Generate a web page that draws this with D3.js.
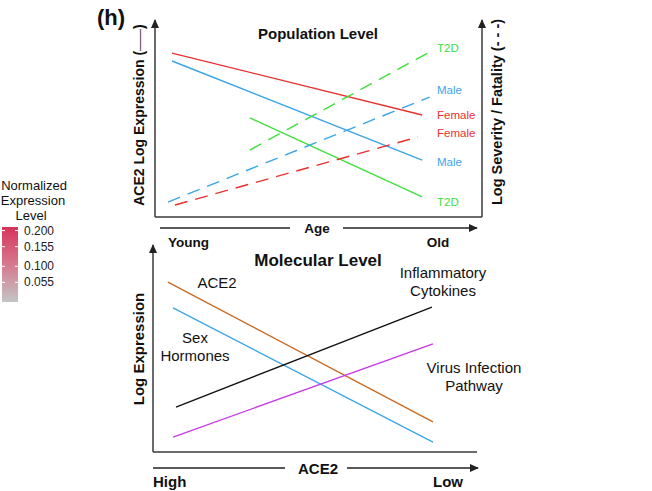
<!DOCTYPE html>
<html><head><meta charset="utf-8">
<script src="https://cdn.jsdelivr.net/npm/d3@7"></script>
<style>
html,body{margin:0;padding:0;background:#fff;}
svg{display:block;font-family:"Liberation Sans",Arial,sans-serif;}
</style></head>
<body>
<svg id="c" width="652" height="491"></svg>
<script>
// ---- Data ----
// Population level: [age (0-100), value (0-100)] at line start and end
const popSeries = ["Female", "Male", "T2D"];
const popSolid = [
  [[5.2, 83.2], [81.7, 51.8]],   // Female ACE2 expression
  [[5.2, 79.2], [81.7, 28.9]],   // Male
  [[29.0, 50.3], [81.7, 10.2]]   // T2D
];
const popDashed = [
  [[6.1, 6.1], [80.4, 40.6]],    // Female severity
  [[4.0, 7.6], [84.0, 60.9]],    // Male
  [[29.0, 34.0], [84.0, 83.8]]   // T2D
];
const popColors = ["#e8312f", "#3ba4e6", "#3fe03b"];
// Molecular level: [ACE2 (high->low, 0-100), log expression (0-100)]
const molSeries = ["ACE2", "Sex Hormones", "Inflammatory Cytokines", "Virus Infection Pathway"];
const molValues = [
  [[4.6, 82.1], [86.4, 14.5]],
  [[6.2, 69.6], [86.4, 4.8]],
  [[7.1, 21.7], [86.1, 70.0]],
  [[6.2, 7.2], [86.4, 52.2]]
];
const molColors = ["#c96a22", "#3aa6e6", "#111111", "#c73ae6"];
// Legend
const legendTicks = [0.200, 0.155, 0.100, 0.055];
const legendTickLabels = ["0.200", "0.155", "0.100", "0.055"];

// ---- Drawing ----
const svg = d3.select("#c");
const axisCol = "#3a3a3a";

const defs = svg.append("defs");
defs.append("marker").attr("id", "arr").attr("viewBox", "0 0 10 10")
  .attr("refX", 9).attr("refY", 5).attr("markerWidth", 6).attr("markerHeight", 6)
  .attr("markerUnits", "strokeWidth").attr("orient", "auto")
  .append("path").attr("d", "M0,0.5 L10,5 L0,9.5 Z").attr("fill", "#222");

const grad = defs.append("linearGradient").attr("id", "lg")
  .attr("x1", 0).attr("y1", 0).attr("x2", 0).attr("y2", 1);
grad.append("stop").attr("offset", "0%").attr("stop-color", "#d7335a");
grad.append("stop").attr("offset", "50%").attr("stop-color", "#d57a8e");
grad.append("stop").attr("offset", "100%").attr("stop-color", "#c4c4c4");

function txt(x, y, s, size, opts = {}) {
  return svg.append("text").attr("x", x).attr("y", y)
    .attr("font-size", size).attr("font-weight", opts.bold ? "bold" : "normal")
    .attr("fill", opts.fill || "#111")
    .attr("text-anchor", opts.anchor || "middle")
    .attr("dominant-baseline", "central")
    .attr("transform", opts.rot ? `rotate(-90,${x},${y})` : null)
    .text(s);
}

// Panel label
svg.append("text").attr("x", 97).attr("y", 25).attr("font-size", 22)
  .attr("font-weight", "bold").attr("fill", "#111").text("(h)");

// ---- Top panel ----
const xTop = d3.scaleLinear().domain([0, 100]).range([155, 482]);
const yTop = d3.scaleLinear().domain([0, 100]).range([217, 20]);
const line = (xs, ys) => d3.line().x(d => xs(d[0])).y(d => ys(d[1]));

// axes
svg.append("line").attr("x1", xTop(0)).attr("y1", yTop(0)).attr("x2", xTop(0)).attr("y2", yTop(100))
  .attr("stroke", axisCol).attr("stroke-width", 1.5).attr("marker-end", "url(#arr)");
svg.append("line").attr("x1", xTop(0)).attr("y1", yTop(0)).attr("x2", xTop(100)).attr("y2", yTop(0))
  .attr("stroke", axisCol).attr("stroke-width", 1.5);
svg.append("line").attr("x1", xTop(100)).attr("y1", yTop(0)).attr("x2", xTop(100)).attr("y2", yTop(100))
  .attr("stroke", axisCol).attr("stroke-width", 1.5).attr("marker-end", "url(#arr)");

const lt = line(xTop, yTop);
svg.selectAll(".ps").data(popSolid).join("path")
  .attr("d", d => lt(d)).attr("fill", "none")
  .attr("stroke", (d, i) => popColors[i]).attr("stroke-width", 1.4);
svg.selectAll(".pd").data(popDashed).join("path")
  .attr("d", d => lt(d)).attr("fill", "none")
  .attr("stroke", (d, i) => popColors[i]).attr("stroke-width", 1.4)
  .attr("stroke-dasharray", "13,8");

// series labels on right
const labs = [2, 1, 0, 0, 1, 2];
const labY = [48, 90, 115, 133, 162, 202];
labs.forEach((s, k) => {
  txt(437, labY[k], popSeries[s], 11.5, { anchor: "start", fill: popColors[s] });
});

txt(318, 33, "Population Level", 15, { bold: true });

// Left rotated label
const ll = svg.append("text").attr("x", 139).attr("y", 115)
  .attr("font-size", 14).attr("font-weight", "bold").attr("fill", "#111")
  .attr("text-anchor", "middle").attr("dominant-baseline", "central")
  .attr("transform", "rotate(-90,139,115)");
ll.append("tspan").text("ACE2 Log Expression (");
ll.append("tspan").attr("font-size", 11).attr("font-weight", "normal").text("——");
ll.append("tspan").text(")");

txt(497, 112, "Log Severity / Fatality (- - -)", 14.5, { bold: true, rot: true });

// Age arrow
svg.append("line").attr("x1", 160).attr("y1", 228).attr("x2", 290).attr("y2", 228)
  .attr("stroke", "#222").attr("stroke-width", 1.5);
svg.append("line").attr("x1", 343).attr("y1", 228).attr("x2", 477).attr("y2", 228)
  .attr("stroke", "#222").attr("stroke-width", 1.5).attr("marker-end", "url(#arr)");
txt(317, 228, "Age", 13.5, { bold: true });
txt(168, 242, "Young", 13.5, { bold: true, anchor: "start" });
txt(438, 242, "Old", 13.5, { bold: true });

// ---- Bottom panel ----
const xBot = d3.scaleLinear().domain([0, 100]).range([153, 477]);
const yBot = d3.scaleLinear().domain([0, 100]).range([452, 245]);
svg.append("line").attr("x1", xBot(0)).attr("y1", yBot(0)).attr("x2", xBot(0)).attr("y2", yBot(100))
  .attr("stroke", axisCol).attr("stroke-width", 1.5).attr("marker-end", "url(#arr)");
svg.append("line").attr("x1", xBot(0)).attr("y1", yBot(0)).attr("x2", xBot(100)).attr("y2", yBot(0))
  .attr("stroke", axisCol).attr("stroke-width", 1.5);

const lb = line(xBot, yBot);
svg.selectAll(".ml").data(molValues).join("path")
  .attr("d", d => lb(d)).attr("fill", "none")
  .attr("stroke", (d, i) => molColors[i]).attr("stroke-width", 1.4);

txt(318, 260, "Molecular Level", 17, { bold: true });
txt(217, 282, "ACE2", 15);
txt(195, 337, "Sex", 15);
txt(195, 355, "Hormones", 15);
txt(443, 272, "Inflammatory", 15);
txt(443, 290, "Cytokines", 15);
txt(474, 367, "Virus Infection", 15);
txt(474, 385, "Pathway", 15);

txt(138, 349, "Log Expression", 15, { bold: true, rot: true });

svg.append("line").attr("x1", 153).attr("y1", 468).attr("x2", 285).attr("y2", 468)
  .attr("stroke", "#222").attr("stroke-width", 1.5);
svg.append("line").attr("x1", 347).attr("y1", 468).attr("x2", 478).attr("y2", 468)
  .attr("stroke", "#222").attr("stroke-width", 1.5).attr("marker-end", "url(#arr)");
txt(318, 468, "ACE2", 15, { bold: true });
txt(153, 481, "High", 15, { bold: true, anchor: "start" });
txt(448, 481, "Low", 15, { bold: true });

// ---- Legend ----
const yLeg = d3.scaleLinear().domain([0, 0.21]).range([302, 227]);
txt(34, 185, "Normalized", 13);
txt(33, 200, "Expression", 13);
txt(31, 215, "Level", 13);
svg.append("rect").attr("x", 2).attr("y", yLeg(0.21)).attr("width", 16)
  .attr("height", yLeg(0) - yLeg(0.21)).attr("fill", "url(#lg)");
legendTicks.forEach((v, i) => {
  svg.append("line").attr("x1", 2).attr("x2", 5).attr("y1", yLeg(v)).attr("y2", yLeg(v))
    .attr("stroke", "#fff").attr("stroke-width", 1);
  svg.append("line").attr("x1", 15).attr("x2", 18).attr("y1", yLeg(v)).attr("y2", yLeg(v))
    .attr("stroke", "#fff").attr("stroke-width", 1);
  txt(24, yLeg(v), legendTickLabels[i], 12, { anchor: "start", fill: "#222" });
});
</script>
</body></html>
